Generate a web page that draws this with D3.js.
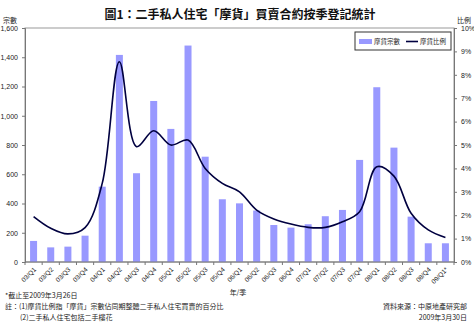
<!DOCTYPE html>
<html><head><meta charset="utf-8">
<script src="https://cdn.jsdelivr.net/npm/d3@7"></script>
<style>
body{margin:0;background:#fff;}
svg{display:block;}
text{font-family:"Liberation Sans","DejaVu Sans",sans-serif;}
.cjk{font-family:"Noto Sans CJK TC","Noto Sans CJK SC",sans-serif;}
</style></head><body>
<svg id="c" width="474" height="326"></svg>
<script>
const categories = ["03/Q1","03/Q2","03/Q3","03/Q4","04/Q1","04/Q2","04/Q3","04/Q4","05/Q1","05/Q2","05/Q3","05/Q4","06/Q1","06/Q2","06/Q3","06/Q4","07/Q1","07/Q2","07/Q3","07/Q4","08/Q1","08/Q2","08/Q3","08/Q4","09/Q1*"];
const counts = [144,100,105,180,515,1416,607,1101,910,1480,720,429,401,352,253,235,258,313,356,698,1195,782,310,128,128];
const ratios = [1.94,1.44,1.20,1.47,3.36,8.56,4.93,5.61,5.00,5.21,4.00,3.36,3.00,2.22,1.84,1.62,1.48,1.48,1.72,2.15,4.07,3.67,2.08,1.37,1.05];
const leftTicks = [0,200,400,600,800,1000,1200,1400,1600];
const rightTicks = [0,1,2,3,4,5,6,7,8,9,10];
const seriesNames = ["摩貨宗數","摩貨比例"];

const svg = d3.select("#c");
const L=25, R=454, T=28, B=262;
const xc = d3.scalePoint().domain(categories).range([L+(R-L)/50, R-(R-L)/50]);
const yL = d3.scaleLinear().domain([0,1600]).range([B,T]);
const yR = d3.scaleLinear().domain([0,10]).range([B,T]);

// plot border
svg.append("rect").attr("x",L).attr("y",T).attr("width",R-L).attr("height",B-T)
  .attr("fill","none").attr("stroke","#999").attr("stroke-width",1);

// bars
svg.selectAll(".bar").data(counts).enter().append("rect")
  .attr("x",(d,i)=>xc(categories[i])-3.5).attr("width",7)
  .attr("y",d=>yL(d)).attr("height",d=>B-yL(d)).attr("fill","#9999ff");

// line
const line = d3.line().x((d,i)=>xc(categories[i])).y(d=>yR(d)).curve(d3.curveCatmullRom.alpha(0.5));
svg.append("path").datum(ratios).attr("d",line).attr("fill","none").attr("stroke","#000040").attr("stroke-width",1.6);

// left axis
const la = svg.append("g").attr("transform",`translate(${L},0)`)
  .call(d3.axisLeft(yL).tickValues(leftTicks).tickSize(3).tickPadding(4).tickFormat(d3.format(",")));
la.select(".domain").attr("stroke","#777");
la.selectAll("line").attr("stroke","#777");
la.selectAll("text").attr("font-size",7).attr("fill","#222");

// right axis
const ra = svg.append("g").attr("transform",`translate(${R},0)`)
  .call(d3.axisRight(yR).tickValues(rightTicks).tickSize(3).tickPadding(4).tickFormat(d=>d+"%"));
ra.select(".domain").attr("stroke","#777");
ra.selectAll("line").attr("stroke","#777");
ra.selectAll("text").attr("font-size",7).attr("fill","#222");

// bottom axis
const step = (R-L)/categories.length;
const ba = svg.append("g").attr("transform",`translate(0,${B})`);
ba.append("line").attr("x1",L).attr("x2",R).attr("stroke","#777");
ba.selectAll(".tk").data(d3.range(categories.length+1)).enter().append("line")
  .attr("x1",i=>L+i*step).attr("x2",i=>L+i*step).attr("y1",0).attr("y2",3).attr("stroke","#777");
ba.selectAll(".lb").data(categories).enter().append("text")
  .attr("transform",d=>`translate(${xc(d)+3},${8}) rotate(-45)`)
  .attr("text-anchor","end").attr("font-size",6.5).attr("fill","#222").text(d=>d);

// title
svg.append("text").attr("class","cjk").attr("x",240).attr("y",19).attr("text-anchor","middle")
  .attr("font-size",12).attr("font-weight","bold").attr("fill","#111")
  .text("圖1：二手私人住宅「摩貨」買賣合約按季登記統計");
svg.append("text").attr("class","cjk").attr("x",3).attr("y",23).attr("font-size",7).attr("fill","#222").text("宗數");
svg.append("text").attr("class","cjk").attr("x",457).attr("y",23).attr("font-size",7).attr("fill","#222").text("比例");

// legend
const lg = svg.append("g");
lg.append("rect").attr("x",355).attr("y",32).attr("width",96).attr("height",18).attr("fill","#fff").attr("stroke","#333");
lg.append("rect").attr("x",359).attr("y",39).attr("width",13).attr("height",5).attr("fill","#9999ff");
lg.append("text").attr("class","cjk").attr("x",374).attr("y",44).attr("font-size",6.5).attr("fill","#222").text(seriesNames[0]);
lg.append("line").attr("x1",406).attr("x2",418).attr("y1",41.5).attr("y2",41.5).attr("stroke","#000040").attr("stroke-width",1.6);
lg.append("text").attr("class","cjk").attr("x",420).attr("y",44).attr("font-size",6.5).attr("fill","#222").text(seriesNames[1]);

// x axis title
svg.append("text").attr("class","cjk").attr("x",238).attr("y",295).attr("text-anchor","middle").attr("font-size",7).attr("fill","#222").text("年/季");

// footnotes
const fn = [["*截止至2009年3月26日",5,298],["註：(1)摩貨比例指「摩貨」宗數佔同期整體二手私人住宅買賣的百分比",5,309],["(2)二手私人住宅包括二手樓花",20,320]];
svg.selectAll(".fn").data(fn).enter().append("text").attr("class","cjk")
  .attr("x",d=>d[1]).attr("y",d=>d[2]).attr("font-size",7).attr("fill","#222").text(d=>d[0]);
svg.append("text").attr("class","cjk").attr("x",467).attr("y",309).attr("text-anchor","end").attr("font-size",7).attr("fill","#222").text("資料來源：中原地產研究部");
svg.append("text").attr("class","cjk").attr("x",467).attr("y",320).attr("text-anchor","end").attr("font-size",7).attr("fill","#222").text("2009年3月30日");
</script></body></html>
